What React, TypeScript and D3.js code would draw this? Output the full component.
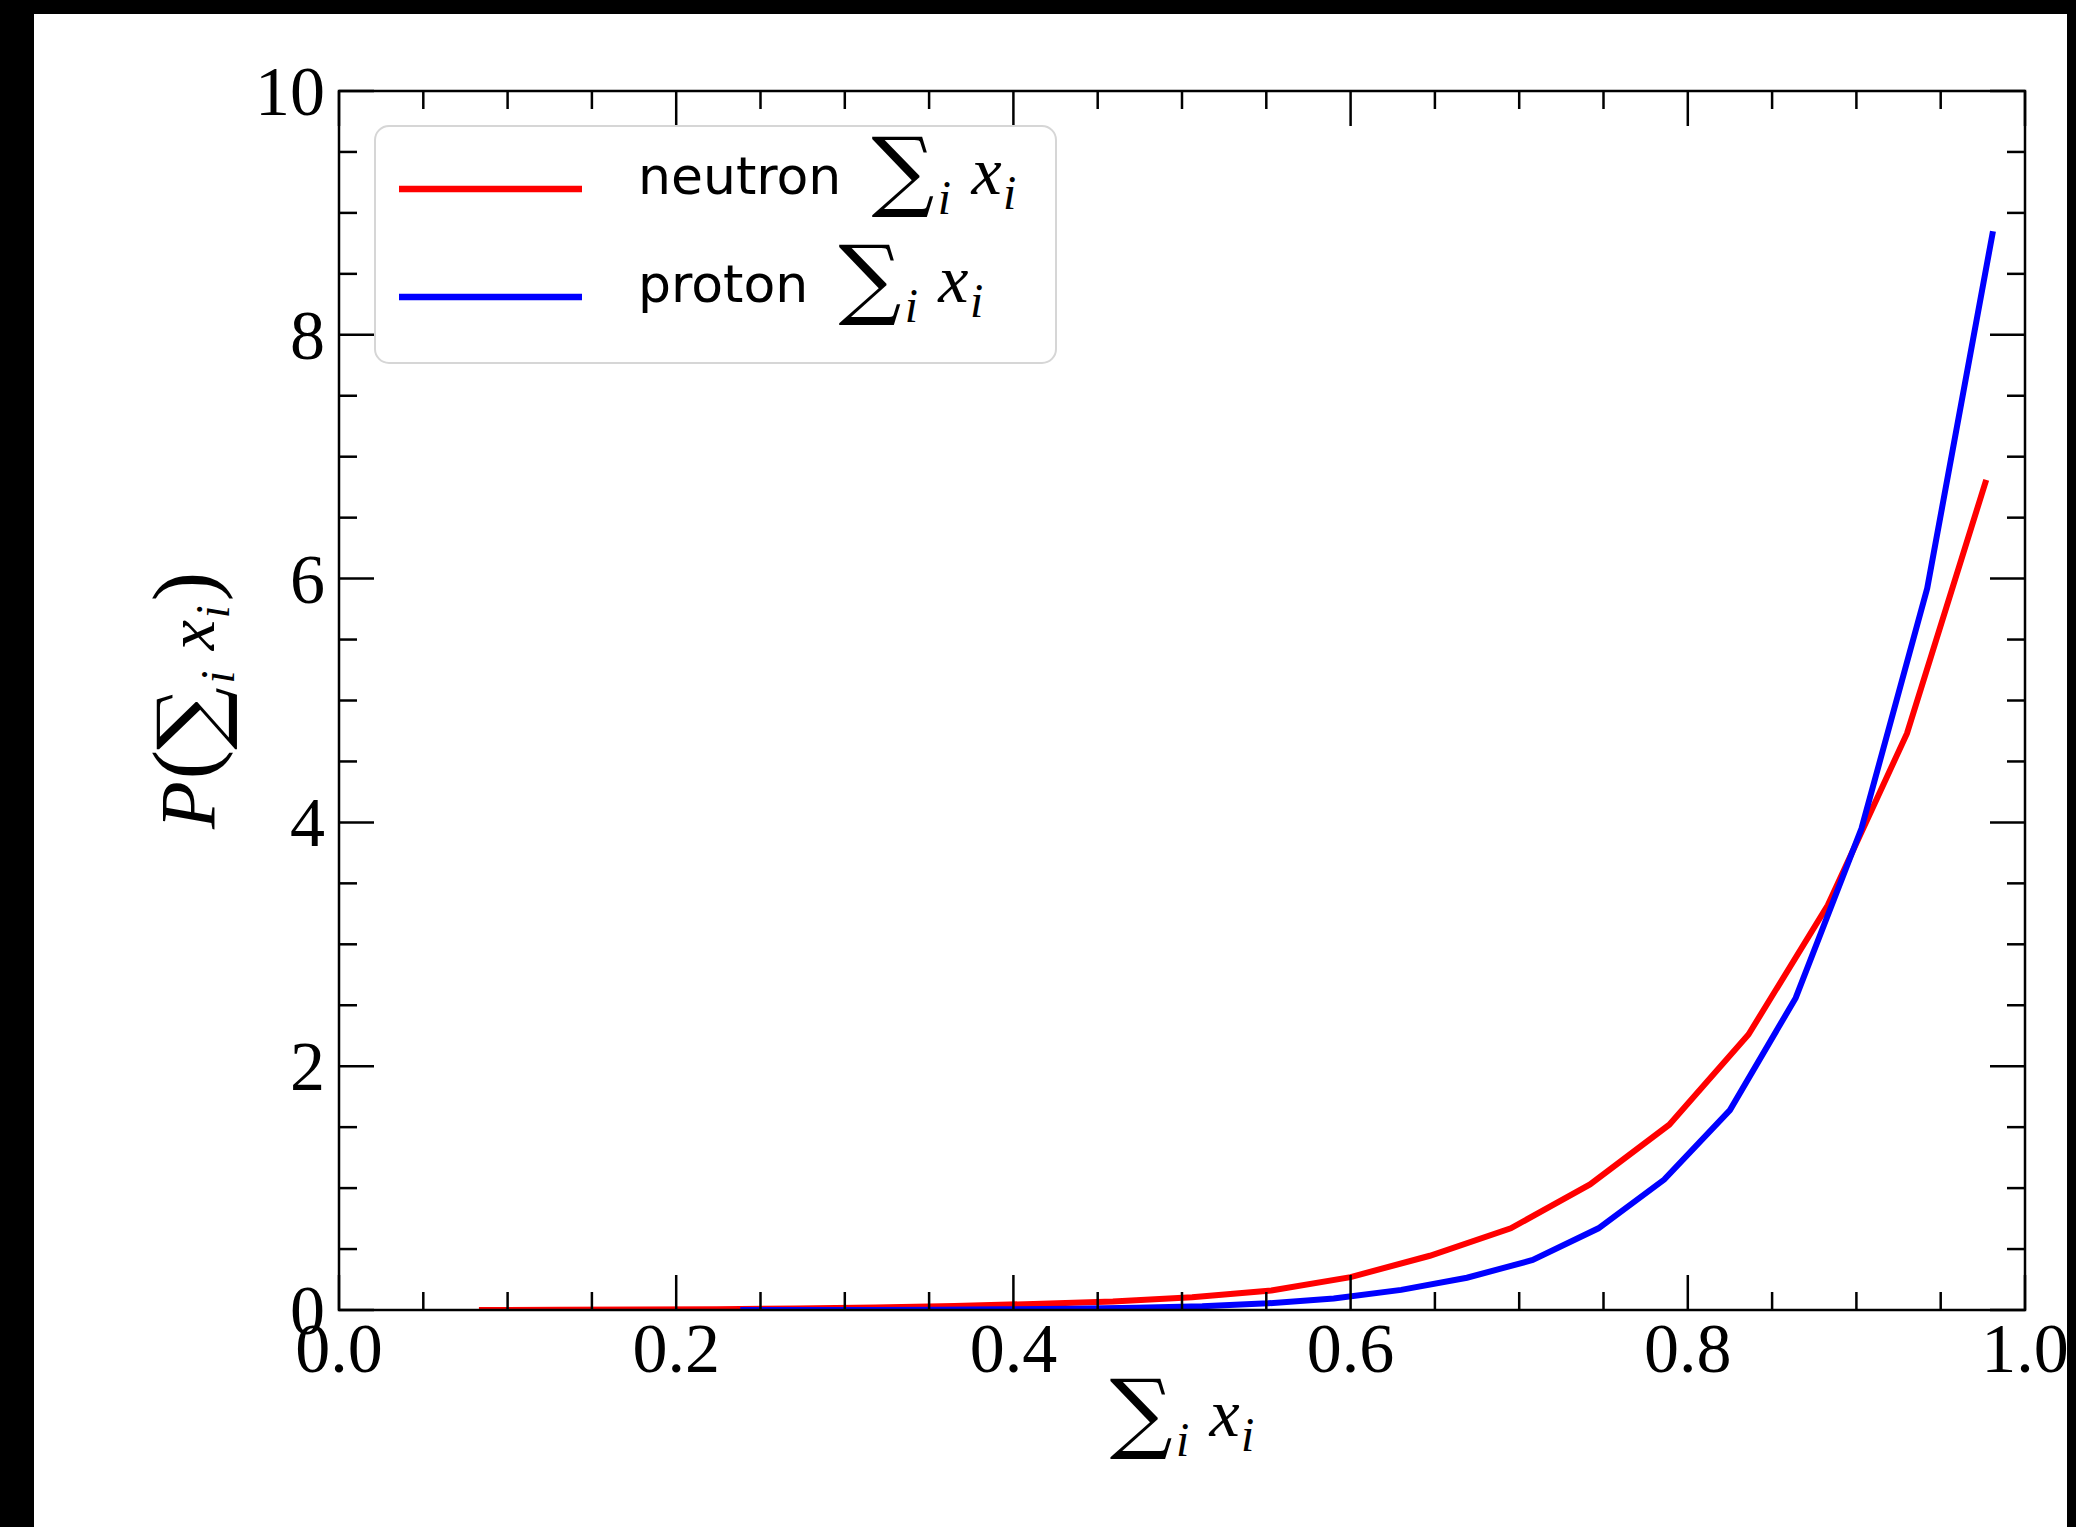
import React from 'react';
import * as d3 from 'd3';

const W = 2076;
const H = 1527;

const xTickValues = [0, 0.2, 0.4, 0.6, 0.8, 1.0];
const xTickLabels = ['0.0', '0.2', '0.4', '0.6', '0.8', '1.0'];
const yTickValues = [0, 2, 4, 6, 8, 10];
const yTickLabels = ['0', '2', '4', '6', '8', '10'];

const neutronX = [0.083, 0.130, 0.177, 0.224, 0.271, 0.318, 0.365, 0.412, 0.459, 0.506, 0.553, 0.600, 0.647, 0.695, 0.742, 0.789, 0.836, 0.883, 0.930, 0.977];
const neutronY = [0.0, 0.002, 0.004, 0.007, 0.012, 0.02, 0.032, 0.05, 0.07, 0.105, 0.16, 0.27, 0.445, 0.67, 1.03, 1.52, 2.26, 3.32, 4.73, 6.81];

const protonX = [0.238, 0.277, 0.316, 0.355, 0.394, 0.434, 0.473, 0.512, 0.551, 0.590, 0.630, 0.669, 0.708, 0.747, 0.786, 0.825, 0.864, 0.903, 0.942, 0.981];
const protonY = [0.0, 0.0, 0.001, 0.003, 0.006, 0.01, 0.018, 0.03, 0.055, 0.095, 0.165, 0.265, 0.41, 0.67, 1.07, 1.64, 2.56, 3.95, 5.92, 8.85];

const seriesNames = ['neutron', 'proton'];
const seriesColors = ['#ff0000', '#0000ff'];

const SERIF = '"Liberation Serif", "DejaVu Serif", serif';
const SIGMA_FONT = '"DejaVu Serif", serif';
const SANS = '"DejaVu Sans", sans-serif';

function SumX({ size, sigma }: { size: number; sigma: number }) {
  const sub = size * 0.7;
  const drop = sigma * 0.07;
  return (
    <>
      <tspan fontFamily={SIGMA_FONT} fontSize={sigma} dy={drop}>∑</tspan>
      <tspan fontFamily={SERIF} fontStyle="italic" fontSize={sub} dx={size * 0.05} dy={size * 0.3 - drop}>i</tspan>
      <tspan fontFamily={SERIF} fontStyle="italic" fontSize={size} dx={size * 0.3} dy={-size * 0.3}>x</tspan>
      <tspan fontFamily={SERIF} fontStyle="italic" fontSize={sub} dx={size * 0.02} dy={size * 0.22}>i</tspan>
    </>
  );
}

export default function App() {
  const left = 339, right = 2025, top = 91, bottom = 1310;
  const x = d3.scaleLinear().domain([0, 1]).range([left, right]);
  const y = d3.scaleLinear().domain([0, 10]).range([bottom, top]);

  const line = d3
    .line<[number, number]>()
    .x((d) => x(d[0]))
    .y((d) => y(d[1]));

  const series = [
    neutronX.map((v, i) => [v, neutronY[i]] as [number, number]),
    protonX.map((v, i) => [v, protonY[i]] as [number, number]),
  ];

  const xMinor = d3.range(0, 21).map((k) => k * 0.05).filter((v) => Math.abs(v / 0.2 - Math.round(v / 0.2)) > 1e-6);
  const yMinor = d3.range(0, 21).map((k) => k * 0.5).filter((v) => Math.abs(v / 2 - Math.round(v / 2)) > 1e-6);

  const MAJ = 35;
  const MIN = 18;
  const tw = 2.5;

  const tickFont = 70;
  const sig = 88;
  const msz = 68;

  return (
    <div style={{ position: 'absolute', left: 0, top: 0, width: W, height: H }}>
      <svg width={W} height={H} style={{ display: 'block' }}>
        <defs>
          <clipPath id="plotclip">
            <rect x={left} y={top} width={right - left} height={bottom - top} />
          </clipPath>
        </defs>
        <rect x={0} y={0} width={W} height={H} fill="#000" />
        <rect x={34} y={14} width={2067 - 34} height={H - 14} fill="#fff" />

        <g clipPath="url(#plotclip)">
          {series.map((s, i) => (
            <path key={i} d={line(s) || ''} fill="none" stroke={seriesColors[i]} strokeWidth={6} strokeLinejoin="miter" />
          ))}
        </g>

        <g stroke="#000" strokeWidth={tw}>
          {xTickValues.map((v, i) => (
            <g key={'xM' + i}>
              <line x1={x(v)} x2={x(v)} y1={bottom} y2={bottom - MAJ} />
              <line x1={x(v)} x2={x(v)} y1={top} y2={top + MAJ} />
            </g>
          ))}
          {xMinor.map((v, i) => (
            <g key={'xm' + i}>
              <line x1={x(v)} x2={x(v)} y1={bottom} y2={bottom - MIN} />
              <line x1={x(v)} x2={x(v)} y1={top} y2={top + MIN} />
            </g>
          ))}
          {yTickValues.map((v, i) => (
            <g key={'yM' + i}>
              <line x1={left} x2={left + MAJ} y1={y(v)} y2={y(v)} />
              <line x1={right} x2={right - MAJ} y1={y(v)} y2={y(v)} />
            </g>
          ))}
          {yMinor.map((v, i) => (
            <g key={'ym' + i}>
              <line x1={left} x2={left + MIN} y1={y(v)} y2={y(v)} />
              <line x1={right} x2={right - MIN} y1={y(v)} y2={y(v)} />
            </g>
          ))}
        </g>

        <rect x={left} y={top} width={right - left} height={bottom - top} fill="none" stroke="#000" strokeWidth={2.5} />

        <g fontFamily={SERIF} fontSize={tickFont} fill="#000">
          {xTickValues.map((v, i) => (
            <text key={'xl' + i} x={x(v)} y={1372} textAnchor="middle">
              {xTickLabels[i]}
            </text>
          ))}
          {yTickValues.map((v, i) => (
            <text key={'yl' + i} x={325} y={y(v) + 24} textAnchor="end">
              {yTickLabels[i]}
            </text>
          ))}
        </g>

        <text x={(left + right) / 2} y={1436} textAnchor="middle" fill="#000">
          <SumX size={msz} sigma={sig} />
        </text>

        <text transform={`translate(214, ${(top + bottom) / 2}) rotate(-90)`} textAnchor="middle" fill="#000">
          <tspan fontFamily={SERIF} fontStyle="italic" fontSize={78}>P</tspan>
          <tspan fontFamily={SERIF} fontSize={88} dx={2}>(</tspan>
          <SumX size={msz} sigma={sig} />
          <tspan fontFamily={SERIF} fontSize={88} dy={-msz * 0.22} dx={4}>)</tspan>
        </text>

        <rect x={375} y={126} width={1056 - 375} height={363 - 126} rx={14} ry={14} fill="#fff" fillOpacity={0.8} stroke="#d6d6d6" strokeWidth={2} />
        {seriesNames.map((name, i) => {
          const ly = 189 + i * 108;
          return (
            <g key={'lg' + i}>
              <line x1={399} x2={582} y1={ly} y2={ly} stroke={seriesColors[i]} strokeWidth={6.5} />
              <text x={638} y={ly + 5} fill="#000">
                <tspan fontFamily={SANS} fontSize={52}>{name}</tspan>
                <tspan dx={30} fontSize={1}> </tspan>
                <SumX size={msz} sigma={sig} />
              </text>
            </g>
          );
        })}
      </svg>
    </div>
  );
}
